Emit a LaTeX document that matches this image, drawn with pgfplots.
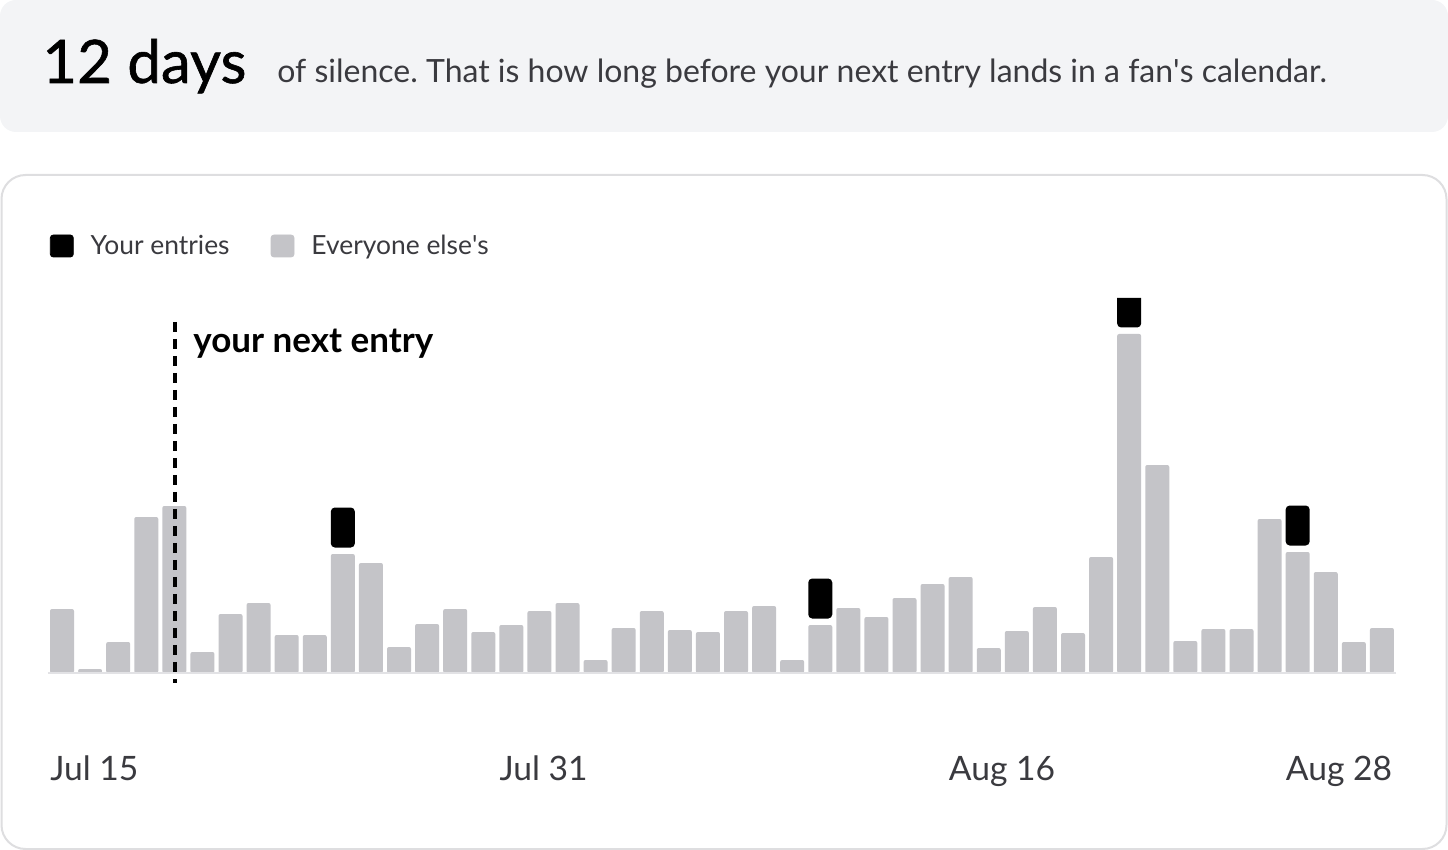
\documentclass[border=0pt]{standalone}
\usepackage{fontspec}
\setmainfont{Lato}
\newfontfamily\medium{Lato}[FakeBold=1]
\usepackage{pgfplots}
\usepackage{pgfplotstable}
\pgfplotsset{compat=1.18}
\frenchspacing

\definecolor{panel}{HTML}{F3F4F6}
\definecolor{frame}{HTML}{DEDEE0}
\definecolor{others}{HTML}{C4C4C8}
\definecolor{axisgray}{HTML}{E2E2E5}
\definecolor{ink}{HTML}{3A3A3F}

% one row per day from Jul 15; gap/mine are the black "your entries" blocks
\pgfplotstableread{
day gray gap mine
0  64  0   0
1  4   0   0
2  31  0   0
3  156 0   0
4  167 0   0
5  21  0   0
6  59  0   0
7  70  0   0
8  38  0   0
9  38  0   0
10 119 6.5 40
11 110 0   0
12 26  0   0
13 49  0   0
14 64  0   0
15 41  0   0
16 48  0   0
17 62  0   0
18 70  0   0
19 13  0   0
20 45  0   0
21 62  0   0
22 43  0   0
23 41  0   0
24 62  0   0
25 67  0   0
26 13  0   0
27 48  6.5 40
28 65  0   0
29 56  0   0
30 75  0   0
31 89  0   0
32 96  0   0
33 25  0   0
34 42  0   0
35 66  0   0
36 40  0   0
37 116 0   0
38 339 6.5 40
39 208 0   0
40 32  0   0
41 44  0   0
42 44  0   0
43 154 0   0
44 121 6.5 40
45 101 0   0
46 31  0   0
47 45  0   0
}\entries

\begin{document}
\begin{tikzpicture}
\useasboundingbox (0,0) rectangle (724pt,-425pt);
\begin{scope}[x=0.5pt,y=-0.5pt]
  \fill[panel, rounded corners=8pt] (0,0) rectangle (1448,132);
  \draw[frame, line width=1pt, fill=white, rounded corners=12pt] (1.5,175) rectangle (1446.5,849);
  \node[anchor=base west, inner sep=0pt, font=\medium\fontsize{30}{30}\selectfont] at (42,83) {12 days};
  \node[anchor=base west, inner sep=0pt, text=ink, font=\fontsize{16}{16}\selectfont] at (277,83)
    {of silence. That is how long before your next entry lands in a fan\textquotesingle s calendar.};
\end{scope}

\begin{axis}[
  at={(31pt,-336.5pt)}, anchor=origin,
  scale only axis, width=674pt, height=187.5pt,
  xmin=-0.5, xmax=47.5, ymin=0, ymax=375,
  ybar stacked, bar width=12pt,
  axis line style={draw=none}, major tick length=0pt,
  ytick=\empty,
  xtick={-0.43,15.57,31.57,43.57},
  xticklabels={Jul 15,Jul 31,Aug 16,Aug 28},
  xticklabel style={anchor=base west, inner sep=0pt, text=ink,
    font=\fontsize{16.8}{17}\selectfont, yshift=-53.5pt},
  clip mode=individual,
  legend columns=2,
  legend cell align=left,
  legend style={draw=none, fill=none, at={(axis cs:-0.43,427)}, anchor=west,
    inner sep=0pt, outer sep=0pt,
    nodes={inner sep=0pt, text=ink, font=\fontsize{13.2}{13}\selectfont},
    column sep=8.5pt,
    /tikz/every even column/.append style={column sep=20.5pt}},
]
\addlegendimage{legend image code/.code={\fill[black,rounded corners=1.5pt] (0pt,-5.5pt) rectangle (11.5pt,5.5pt);}}
\addlegendimage{legend image code/.code={\fill[others,rounded corners=1.5pt] (0pt,-5.5pt) rectangle (11.5pt,5.5pt);}}
\draw[axisgray, line width=1.2pt] (axis cs:-0.5,0) -- (axis cs:47.5,0);
\addplot[fill=others, draw=none, rounded corners=1pt] table[x=day, y=gray] {\entries};
\addplot[fill=none, draw=none] table[x=day, y=gap] {\entries};
\addplot[fill=black, draw=none, rounded corners=2pt] table[x=day, y=mine] {\entries};
\legend{Your entries, Everyone else\textquotesingle s}
\coordinate (nexttop) at (axis cs:4.02,351);
\coordinate (nextbot) at (axis cs:4.02,-10);
\node[anchor=base west, inner sep=0pt, font=\bfseries\fontsize{17.5}{18}\selectfont] at (axis cs:4.665,321) {your next entry};
\end{axis}
\draw[black, line width=2pt, dash pattern=on 5pt off 3.5pt] (nexttop) -- (nextbot);
\end{tikzpicture}
\end{document}
